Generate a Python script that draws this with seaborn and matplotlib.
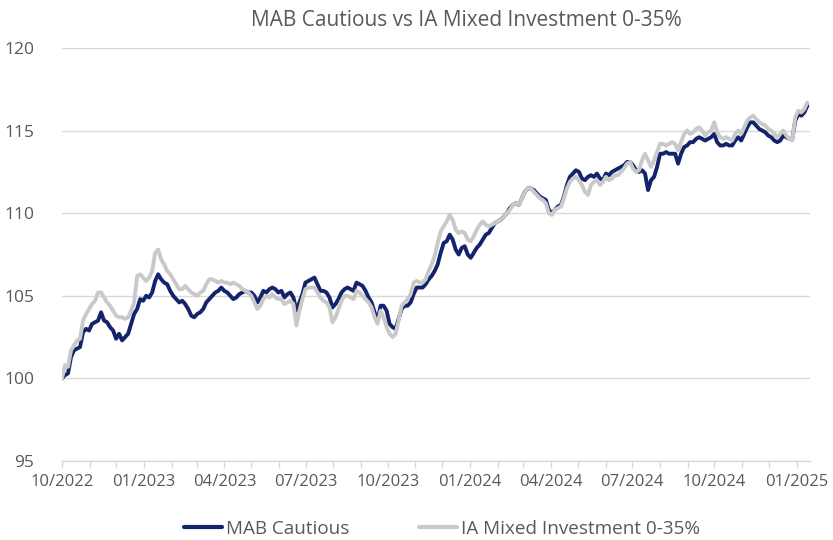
import numpy as np
import pandas as pd
import matplotlib
matplotlib.use("Agg")
import matplotlib.pyplot as plt
import matplotlib.dates as mdates
from matplotlib.lines import Line2D
import seaborn as sns

# ---------------- data ----------------
series_names = ["MAB Cautious", "IA Mixed Investment 0-35%"]
start_date = "2022-10-01"
end_date = "2025-01-13"

mab_cautious = [
    100.0,
    100.2, 100.3, 101.3, 101.7, 101.8, 101.9, 102.8, 103.0, 102.9, 103.3, 103.4, 103.5, 104.0, 103.5, 103.4, 103.1,
    102.9, 102.4, 102.7, 102.3, 102.5, 102.7, 103.3, 103.9, 104.2, 104.8, 104.7, 105.0, 104.9, 105.2, 105.9, 106.3, 106.0,
    105.8, 105.7, 105.3, 105.0, 104.8, 104.6, 104.7, 104.5, 104.2, 103.8, 103.7, 103.9, 104.0, 104.2, 104.6, 104.8, 105.0,
    105.2, 105.3, 105.5, 105.3, 105.2, 105.0, 104.8, 104.9, 105.1, 105.2, 105.3, 105.2, 105.2, 105.0, 104.6, 104.9, 105.3,
    105.2, 105.4,
    105.5, 105.4, 105.2, 105.3, 104.9, 105.1, 105.2, 104.9, 104.1, 104.6, 105.1, 105.8, 105.9, 106.0, 106.1, 105.7, 105.3,
    105.3, 105.2, 104.9, 104.3, 104.5, 104.8, 105.2, 105.4, 105.5, 105.4, 105.3, 105.8, 105.7, 105.6, 105.3, 104.9, 104.6,
    104.0, 103.5,
    104.4, 104.4, 104.1, 103.3, 103.1, 103.0, 103.6, 104.2, 104.4, 104.4, 104.6, 105.1, 105.5, 105.5, 105.5, 105.7, 106.0,
    106.2, 106.5, 106.9, 107.6, 108.2, 108.3, 108.7, 108.4, 107.8, 107.5, 107.9, 108.0, 107.5, 107.3, 107.6, 107.9, 108.1,
    108.4, 108.7, 108.8,
    109.1, 109.4, 109.5, 109.6, 109.8, 110.0, 110.3, 110.5, 110.6, 110.5, 110.9, 111.3, 111.5, 111.5, 111.4, 111.2, 111.0,
    110.9, 110.8, 110.2, 110.0, 110.2, 110.4, 110.5, 111.0, 111.7, 112.2, 112.4, 112.6, 112.5, 112.1, 112.0, 112.2, 112.3,
    112.2,
    112.4, 112.1, 112.0, 112.4, 112.3, 112.5, 112.6, 112.7, 112.8, 112.9, 113.1, 113.1, 112.9, 112.6, 112.5, 112.6, 112.4,
    111.4, 112.0, 112.2, 112.8, 113.6, 113.6, 113.7, 113.6, 113.6, 113.6, 113.0, 113.6, 114.0, 114.1, 114.3, 114.3, 114.5,
    114.6, 114.5,
    114.4, 114.5, 114.6, 114.8, 114.3, 114.1, 114.1, 114.2, 114.1, 114.1, 114.4, 114.6, 114.4, 114.8, 115.2, 115.5, 115.5,
    115.3, 115.1, 115.0, 114.9, 114.7, 114.6, 114.4, 114.3, 114.4, 114.7, 114.6, 114.5, 114.5, 115.6, 116.0, 115.9, 116.1,
    116.5,
]

ia_mixed_0_35 = [
    100.0,
    100.8, 100.7, 101.7, 102.0, 102.3, 102.4, 103.5, 103.9, 104.2, 104.5, 104.7, 105.2, 105.2, 104.9, 104.6, 104.4,
    104.1, 103.8, 103.7, 103.7, 103.6, 103.7, 104.1, 104.6, 106.2, 106.3, 106.1, 105.9, 106.1, 106.5, 107.6, 107.8, 107.2,
    106.9, 106.5, 106.3, 106.0, 105.7, 105.4, 105.4, 105.6, 105.4, 105.2, 105.1, 105.0, 105.2, 105.3, 105.7, 106.0, 106.0,
    105.9, 105.8, 105.9, 105.8, 105.8, 105.7, 105.8, 105.7, 105.6, 105.4, 105.3, 105.2, 105.0, 104.6, 104.2, 104.4, 104.8,
    105.0, 104.9,
    105.1, 104.9, 104.8, 104.8, 104.5, 104.6, 104.7, 104.5, 103.2, 104.1, 104.8, 105.4, 105.5, 105.5, 105.5, 105.2, 104.9,
    104.7, 104.6, 104.3, 103.4, 103.7, 104.2, 104.7, 105.0, 105.0, 104.9, 104.8, 105.3, 105.2, 105.0, 104.8, 104.6, 104.3,
    103.7, 103.3,
    104.1, 103.7, 103.1, 102.7, 102.5, 102.7, 103.5, 104.4, 104.6, 104.8, 105.1, 105.8, 105.9, 105.8, 105.8, 106.0, 106.5,
    106.9, 107.4, 108.2, 108.9, 109.2, 109.5, 109.9, 109.6, 109.0, 108.8, 108.9, 108.8, 108.4, 108.3, 108.6, 109.0, 109.3,
    109.5, 109.3, 109.2,
    109.3, 109.4, 109.5, 109.6, 109.8, 110.0, 110.2, 110.5, 110.6, 110.5, 110.9, 111.3, 111.5, 111.5, 111.3, 111.1, 110.9,
    110.8, 110.6, 110.0, 109.9, 110.2, 110.3, 110.4, 110.9, 111.5, 111.9, 112.1, 112.2, 112.0, 111.7, 111.3, 111.1, 111.7,
    111.9,
    112.0, 111.7, 111.9, 112.2, 112.0, 112.1, 112.3, 112.3, 112.5, 112.7, 113.0, 113.1, 112.7, 112.5, 112.6, 113.2, 113.6,
    113.2, 112.8, 113.2, 113.7, 114.2, 114.2, 114.1, 114.2, 114.3, 114.2, 113.8, 114.3, 114.8, 115.0, 114.8, 114.9, 115.1,
    115.2, 115.0,
    114.7, 114.9, 115.0, 115.5, 114.9, 114.6, 114.5, 114.6, 114.5, 114.4, 114.8, 115.0, 114.8, 115.2, 115.6, 115.8, 115.9,
    115.7, 115.5, 115.4, 115.3, 115.1, 115.0, 114.8, 114.6, 114.8, 115.0, 114.7, 114.5, 114.4, 115.8, 116.2, 116.1, 116.3,
    116.7,
]

y_ticks = [95, 100, 105, 110, 115, 120]
label_months = [1, 4, 7, 10]

# ---------------- style ----------------
line_colors = ["#14246c", "#c9c9c9"]
text_color = "#595959"
grid_color = "#d9d9d9"

sns.set_theme(style="white")
plt.rcParams["font.family"] = ["Open Sans", "DejaVu Sans"]

dates = pd.date_range(start_date, end_date, periods=len(mab_cautious))
df = pd.concat([
    pd.DataFrame({"date": dates, "value": mab_cautious, "series": series_names[0]}),
    pd.DataFrame({"date": dates, "value": ia_mixed_0_35, "series": series_names[1]}),
], ignore_index=True)

fig = plt.figure(figsize=(8.33, 5.4), dpi=100)
ax = fig.add_axes([62 / 833, 1 - 461 / 540, (810 - 62) / 833, (461 - 48) / 540])

sns.lineplot(data=df, x="date", y="value", hue="series", hue_order=series_names,
             palette=line_colors, linewidth=2.8, legend=False, ax=ax, estimator=None)
for ln in ax.lines:
    ln.set_solid_joinstyle("round")
    ln.set_solid_capstyle("round")

ax.set_ylim(y_ticks[0], y_ticks[-1])
ax.set_yticks(y_ticks)
ax.set_xlim(pd.Timestamp("2022-10-01"), pd.Timestamp("2025-01-16"))
ax.grid(axis="y", color=grid_color, linewidth=1)
ax.set_axisbelow(True)

ax.xaxis.set_major_locator(mdates.MonthLocator(bymonth=label_months))
ax.xaxis.set_major_formatter(mdates.DateFormatter("%m/%Y"))
ax.xaxis.set_minor_locator(mdates.MonthLocator())
ax.tick_params(axis="x", which="both", direction="out", length=5, width=1,
               color=grid_color, labelsize=12, labelcolor=text_color, pad=4, bottom=True)
ax.tick_params(axis="y", length=0, labelsize=12.5, labelcolor=text_color, pad=20)

for side in ["top", "right", "left"]:
    ax.spines[side].set_visible(False)
ax.spines["bottom"].set_color(grid_color)
ax.spines["bottom"].set_linewidth(1)

ax.set_xlabel("")
ax.set_ylabel("")

fig.text(0.56, 1 - 20 / 540, "MAB Cautious vs IA Mixed Investment 0-35%",
         ha="center", va="center", fontsize=15, color=text_color)

handles = [Line2D([0], [0], color=c, linewidth=3) for c in line_colors]
fig.legend(handles, series_names, loc="center", bbox_to_anchor=(442 / 833, 1 - 529 / 540),
           ncol=2, frameon=False, fontsize=13.6, labelcolor=text_color,
           handlelength=2.0, handletextpad=0.2, columnspacing=3.7)

fig.savefig("out.png", dpi=100)
